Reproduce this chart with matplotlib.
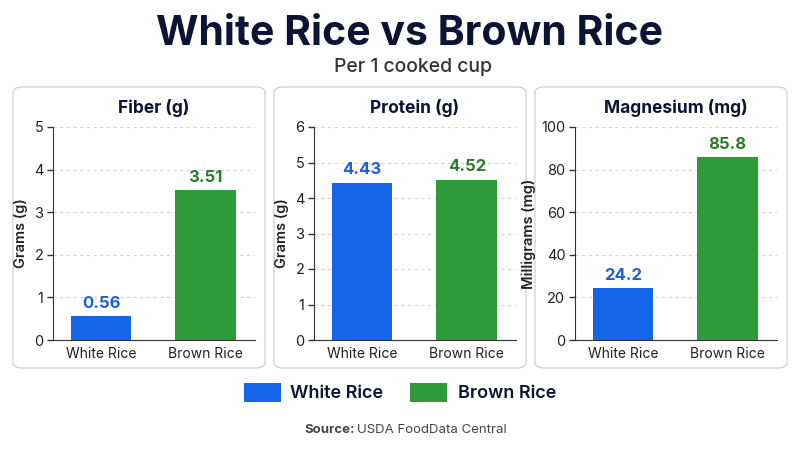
import matplotlib.pyplot as plt
from matplotlib.patches import FancyBboxPatch, Rectangle

plt.rcParams['font.family'] = ['Inter', 'DejaVu Sans']

# data
categories = ["White Rice", "Brown Rice"]
panel_titles = ["Fiber (g)", "Protein (g)", "Magnesium (mg)"]
y_labels = ["Grams (g)", "Grams (g)", "Milligrams (mg)"]
fiber = [0.56, 3.51]
protein = [4.43, 4.52]
magnesium = [24.2, 85.8]
value_text = [["0.56", "3.51"], ["4.43", "4.52"], ["24.2", "85.8"]]
y_max = [5, 6, 100]
y_step = [1, 1, 20]

bar_colors = ["#1565e8", "#2e9a3a"]
text_colors = ["#1f5fd6", "#2a7d2a"]
navy = "#0d1433"

fig = plt.figure(figsize=(8, 4.5), dpi=100)
fig.patch.set_facecolor("white")

fig.text(410 / 800, 0.925, "White Rice vs Brown Rice", ha="center", va="center",
         fontsize=29.5, fontweight="bold", color=navy)
fig.text(413 / 800, 0.850, "Per 1 cooked cup", ha="center", va="center",
         fontsize=14, fontweight="medium", color="#333333")

W, H = 800, 450
box_left = [13, 274, 535]
for i, vals in enumerate([fiber, protein, magnesium]):
    bx = box_left[i]
    # rounded panel box, behind the axes
    box = FancyBboxPatch((bx / W, (H - 368) / H), 252 / W, 281 / H,
                         boxstyle="round,pad=0,rounding_size=0.012",
                         transform=fig.transFigure, facecolor="white",
                         edgecolor="#d4d4d4", linewidth=1.0, zorder=-1)
    fig.patches.append(box)
    ax = fig.add_axes([(bx + 40) / W, (H - 340) / H, 202 / W, 213 / H])
    ax.set_zorder(1)
    ax.set_facecolor("none")
    ax.bar([0, 1], vals, width=0.58, color=bar_colors, zorder=3)
    ax.set_xlim(-0.46, 1.47)
    ax.set_ylim(0, y_max[i])
    ax.set_yticks(range(0, y_max[i] + 1, y_step[i]))
    ax.set_xticks([0, 1])
    ax.set_xticklabels(categories, fontsize=10, color="#222222")
    ax.tick_params(axis="y", labelsize=10.5, labelcolor="#222222", length=4, width=1,
                   color="#333333", pad=3)
    ax.tick_params(axis="x", length=0, pad=5)
    ax.grid(axis="y", linestyle=(0, (3, 3)), color="#d6d6d6", linewidth=0.8, zorder=0)
    for s in ["top", "right"]:
        ax.spines[s].set_visible(False)
    ax.spines["left"].set_color("#333333")
    ax.spines["bottom"].set_color("#333333")
    ax.set_ylabel(y_labels[i], fontsize=10.5, fontweight="semibold", color="#222222", labelpad=4)
    ax.set_title(panel_titles[i], fontsize=12.5, fontweight="bold", color=navy, pad=10)
    for j, v in enumerate(vals):
        ax.annotate(value_text[i][j], (j, v), xytext=(0, 4), textcoords="offset points",
                    ha="center", va="bottom", fontsize=12, fontweight="bold",
                    color=text_colors[j], zorder=4)

# legend
for k, (lx, tx) in enumerate([(244, 290), (410, 458)]):
    fig.patches.append(Rectangle((lx / W, (H - 402) / H), 37 / W, 19 / H,
                                 transform=fig.transFigure, facecolor=bar_colors[k],
                                 edgecolor="none"))
    fig.text(tx / W, (H - 393) / H, categories[k], ha="left", va="center",
             fontsize=13, fontweight="semibold", color=navy)

fig.text(304 / W, (H - 430) / H, "Source:", ha="left", va="center", fontsize=9.5,
         fontweight="bold", color="#444444")
fig.text(357 / W, (H - 430) / H, "USDA FoodData Central", ha="left", va="center",
         fontsize=9.5, color="#444444")

fig.savefig("out.png", dpi=100, facecolor="white")
